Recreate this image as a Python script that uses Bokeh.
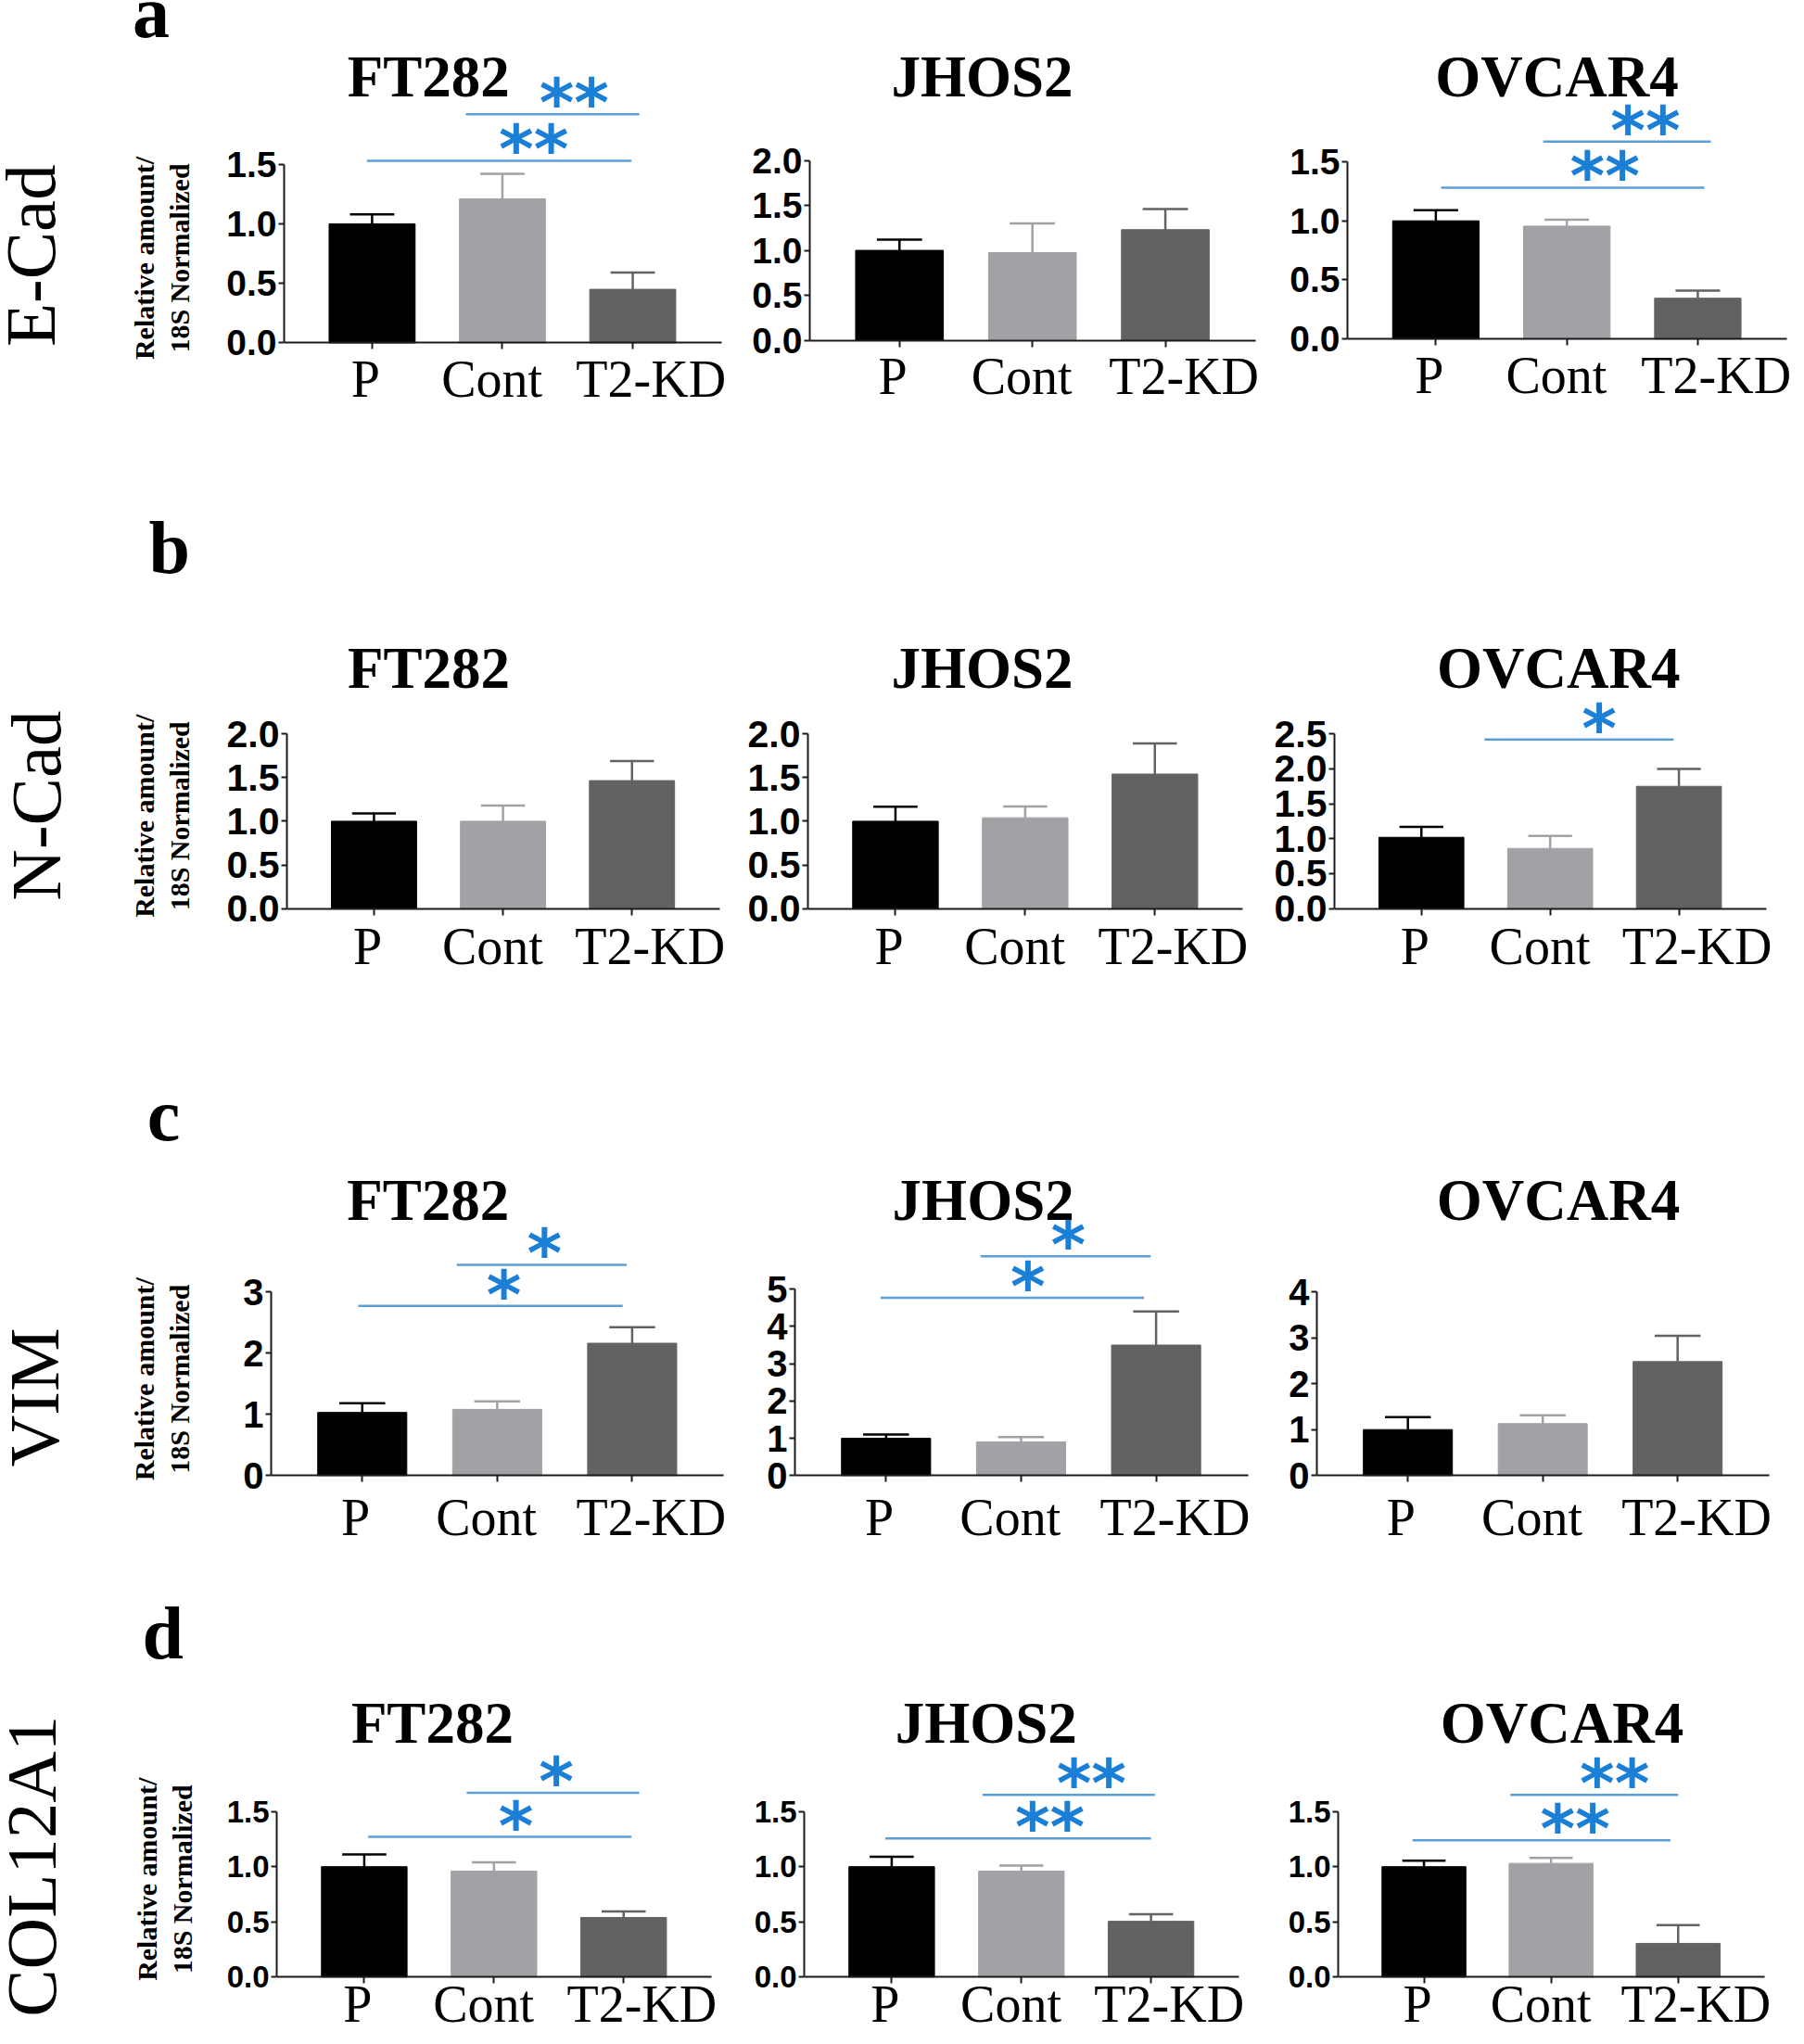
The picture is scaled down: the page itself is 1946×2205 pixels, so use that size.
import numpy as np
from bokeh.plotting import figure
from bokeh.layouts import row, column
from bokeh.models import FixedTicker, Range1d, NumeralTickFormatter
from bokeh.core.properties import value
from bokeh.embed import file_html
from bokeh.resources import INLINE

# ---------------- data ----------------
genes = ["E-Cad", "N-Cad", "VIM", "COL12A1"]
panel_letters = ["a", "b", "c", "d"]
cell_lines = ["FT282", "JHOS2", "OVCAR4"]
groups = ["P", "Cont", "T2-KD"]
ylabel_lines = ["Relative amount/", "18S Normalized"]

# mean relative amount, [cell line][group]
ecad_mean = [[1.00, 1.21, 0.45], [1.00, 0.975, 1.23], [1.00, 0.955, 0.345]]
ecad_err = [[0.08, 0.21, 0.14], [0.12, 0.325, 0.23], [0.09, 0.055, 0.065]]
ncad_mean = [[1.00, 1.00, 1.465], [1.00, 1.04, 1.54], [1.02, 0.86, 1.75]]
ncad_err = [[0.09, 0.18, 0.225], [0.165, 0.13, 0.35], [0.15, 0.18, 0.25]]
vim_mean = [[1.03, 1.08, 2.16], [1.00, 0.90, 3.50], [1.00, 1.13, 2.48]]
vim_err = [[0.15, 0.13, 0.26], [0.10, 0.13, 0.90], [0.27, 0.18, 0.56]]
col12a1_mean = [[1.00, 0.96, 0.54], [1.00, 0.96, 0.505], [1.00, 1.03, 0.305]]
col12a1_err = [[0.11, 0.08, 0.055], [0.09, 0.05, 0.065], [0.055, 0.05, 0.165]]

# y tick values per cell line
ecad_ticks = [[0, 0.5, 1.0, 1.5], [0, 0.5, 1.0, 1.5, 2.0], [0, 0.5, 1.0, 1.5]]
ncad_ticks = [[0, 0.5, 1.0, 1.5, 2.0], [0, 0.5, 1.0, 1.5, 2.0], [0, 0.5, 1.0, 1.5, 2.0, 2.5]]
vim_ticks = [[0, 1, 2, 3], [0, 1, 2, 3, 4, 5], [0, 1, 2, 3, 4]]
col12a1_ticks = [[0, 0.5, 1.0, 1.5], [0, 0.5, 1.0, 1.5], [0, 0.5, 1.0, 1.5]]
tick_formats = ["0.0", "0.0", "0", "0.0"]

# significance brackets: (from, to, height, label, label position)
ecad_sig = [[(0.72, 2.05, 1.92, "**", 1.55), (-0.04, 1.99, 1.53, "**", 1.24)],
            [],
            [(0.82, 2.10, 1.67, "**", 1.60), (0.04, 2.05, 1.28, "**", 1.29)]]
ncad_sig = [[], [], [(0.49, 1.96, 2.42, "*", 1.38)]]
vim_sig = [[(0.70, 1.96, 3.44, "*", 1.35), (-0.03, 1.93, 2.77, "*", 1.05)],
           [(0.70, 1.96, 5.88, "*", 1.35), (-0.04, 1.91, 4.77, "*", 1.05)],
           []]
col12a1_sig = [[(0.79, 2.12, 1.67, "*", 1.48), (0.03, 2.06, 1.27, "*", 1.17)],
               [(0.70, 2.03, 1.65, "**", 1.54), (-0.05, 2.00, 1.255, "**", 1.22)],
               [(0.68, 2.00, 1.65, "**", 1.50), (-0.09, 1.94, 1.24, "**", 1.19)]]

means = [ecad_mean, ncad_mean, vim_mean, col12a1_mean]
errs = [ecad_err, ncad_err, vim_err, col12a1_err]
yticks = [ecad_ticks, ncad_ticks, vim_ticks, col12a1_ticks]
sigs = [ecad_sig, ncad_sig, vim_sig, col12a1_sig]

# ---------------- style / layout ----------------
BAR_COLORS = ["#000000", "#a2a2a6", "#626262"]
SIG_LINE = "#5b9fd8"
SIG_STAR = "#1c7fd6"
AXIS_COLOR = "#1a1a1a"
SERIF = "Liberation Serif"
TICK_FONT = "'Liberation Sans Narrow', 'Arial Narrow', 'Liberation Sans', sans-serif"
STAR_FONT = "DejaVu Sans"

S = 1946 / 1384          # preview px -> page px
X_LO, X_HI = -0.675, 2.68
BAR_W = 0.66
CAP_W = 0.34
LABEL_DX = [-0.05, -0.08, 0.14]     # horizontal nudge of the category names

SEC = [(-1, 440), (440, 1075), (1075, 1675), (1688, 2201)]
EDGES = [[4, 245, 800, 1390, 1934],
         [4, 245, 800, 1375, 1934],
         [4, 240, 800, 1375, 1934],
         [4, 245, 800, 1390, 1934]]
PC = [[286.5, 692.5, 1104], [286.5, 689.5, 1089.5], [280.5, 682.5, 1082.5], [280.5, 686.5, 1093.5]]
SP = [[100.5, 102, 100.5], [100, 99.5, 100], [103.5, 103.5, 103.5], [100, 99.5, 98]]
Y0 = [[262, 260, 259], [696, 696, 696], [1131, 1131, 1131], [1525, 1525, 1525]]
YT = [[125, 122, 123], [562, 562, 562], [990, 988, 990], [1398, 1398, 1398]]
TITLE_X = [[330, 756, 1197], [329, 756, 1196], [331, 757, 1198], [333, 759, 1200]]
TITLE_Y = [58, 512, 920, 1330]
LABEL_GAP = [39, 41, 45, 29]     # page px from x axis to category-name centre
TICK_PX = [39, 41, 40, 33]
LETTER_XY = [(118.5, 8.5), (132.5, 419), (128, 854.6), (127.5, 1261.5)]
GENE_XY = [(26, 195), (30, 617), (29, 1071), (26.5, 1440)]
YLAB_X = [(113, 140), (113, 140), (113, 140), (115, 142)]
YLAB_Y = [197, 625, 1057, 1450]


def gutter(r):
    top, bot = SEC[r]
    l, rr = EDGES[r][0], EDGES[r][1]
    g = figure(width=rr - l, height=bot - top, x_range=Range1d(l, rr), y_range=Range1d(-bot, -top),
               output_backend="svg", toolbar_location=None, x_axis_location=None,
               y_axis_location=None, min_border=0)
    g.outline_line_color = None
    g.grid.visible = False
    lx, ly = LETTER_XY[r]
    g.text(x=[lx * S], y=[-ly * S], text=[panel_letters[r]], text_font=value(SERIF),
           text_font_style="bold", text_font_size="80px", text_align="center",
           text_baseline="middle", text_color="black")
    gx, gy = GENE_XY[r]
    g.text(x=[gx * S], y=[-gy * S], text=[genes[r]], angle=np.pi / 2, text_font=value(SERIF),
           text_font_size="77px", text_align="center", text_baseline="middle", text_color="black")
    for i, line in enumerate(ylabel_lines):
        g.text(x=[YLAB_X[r][i] * S], y=[-YLAB_Y[r] * S], text=[line], angle=np.pi / 2,
               text_font=value(SERIF), text_font_style="bold", text_font_size="30px",
               text_align="center", text_baseline="middle", text_color="black")
    return g


def panel(r, c):
    top, bot = SEC[r]
    el, er = EDGES[r][c + 1], EDGES[r][c + 2]
    axL = (PC[r][c] + X_LO * SP[r][c]) * S
    axR = (PC[r][c] + X_HI * SP[r][c]) * S
    upx = (X_HI - X_LO) / (axR - axL)          # x data units per page px
    x_end = X_HI + (er - axR) * upx            # frame runs to the figure's right edge
    y0 = Y0[r][c] * S
    yt = YT[r][c] * S
    ticks = yticks[r][c]
    ymax = ticks[-1]
    k = ymax / (y0 - yt)
    p = figure(width=er - el, height=bot - top,
               x_range=Range1d(X_LO, x_end), y_range=Range1d(-k * (bot - y0), k * (y0 - top)),
               output_backend="svg", toolbar_location=None, min_border=0,
               min_border_left=int(round(axL - el)), min_border_right=0,
               min_border_top=0, min_border_bottom=0)
    p.outline_line_color = None
    p.grid.visible = False

    m = means[r][c]
    e = errs[r][c]
    xs = [0, 1, 2]
    tops = [a + b for a, b in zip(m, e)]
    p.vbar(x=xs, top=m, bottom=0, width=BAR_W, fill_color=BAR_COLORS, line_color=BAR_COLORS)
    p.segment(x0=xs, y0=m, x1=xs, y1=tops, line_color=BAR_COLORS, line_width=2.5)
    p.segment(x0=[x - CAP_W / 2 for x in xs], y0=tops, x1=[x + CAP_W / 2 for x in xs], y1=tops,
              line_color=BAR_COLORS, line_width=2.5)

    sg = sigs[r][c]
    if sg:
        p.segment(x0=[s[0] for s in sg], y0=[s[2] for s in sg], x1=[s[1] for s in sg],
                  y1=[s[2] for s in sg], line_color=SIG_LINE, line_width=2.5)
        p.text(x=[s[4] for s in sg], y=[s[2] for s in sg], text=[s[3] for s in sg],
               text_font=value(STAR_FONT), text_font_style="bold", text_font_size="72px",
               text_color=SIG_STAR, text_align="center", text_baseline="alphabetic", y_offset=-12)

    tx = X_LO + (TITLE_X[r][c] * S - axL) * upx
    ty = k * (y0 - TITLE_Y[r] * S)
    p.text(x=[tx], y=[ty], text=[cell_lines[c]], text_font=value(SERIF), text_font_style="bold",
           text_font_size="63px", text_align="center", text_baseline="middle", text_color="black")

    # category names under the axis
    p.text(x=[x + d for x, d in zip(xs, LABEL_DX)], y=[-k * LABEL_GAP[r]] * 3, text=groups,
           text_font=value(SERIF), text_font_size="56px", text_align="center",
           text_baseline="middle", text_color="black")

    xa = p.xaxis[0]
    xa.fixed_location = 0
    xa.bounds = (X_LO, X_HI)
    xa.ticker = FixedTicker(ticks=xs, minor_ticks=[])
    xa.major_label_text_font_size = "0px"
    xa.major_label_overrides = {i: "" for i in xs}
    xa.major_tick_out = 7
    xa.major_tick_in = 0
    xa.minor_tick_line_color = None
    xa.axis_line_color = AXIS_COLOR
    xa.axis_line_width = 2
    xa.major_tick_line_color = AXIS_COLOR
    xa.major_tick_line_width = 2

    ya = p.yaxis[0]
    ya.bounds = (0, ymax)
    ya.ticker = FixedTicker(ticks=ticks, minor_ticks=[])
    ya.formatter = NumeralTickFormatter(format=tick_formats[r])
    ya.major_label_text_font = TICK_FONT
    ya.major_label_text_font_style = "bold"
    ya.major_label_text_font_size = f"{TICK_PX[r]}px"
    ya.major_label_text_color = "black"
    ya.major_label_standoff = 2
    ya.major_tick_out = 6
    ya.major_tick_in = 0
    ya.minor_tick_line_color = None
    ya.axis_line_color = AXIS_COLOR
    ya.axis_line_width = 2
    ya.major_tick_line_color = AXIS_COLOR
    ya.major_tick_line_width = 2
    return p


rows = []
for r in range(4):
    rows.append(row(gutter(r), panel(r, 0), panel(r, 1), panel(r, 2), spacing=0))
layout = column(*rows, spacing=0)

open("out.html", "w").write(file_html(layout, INLINE))
